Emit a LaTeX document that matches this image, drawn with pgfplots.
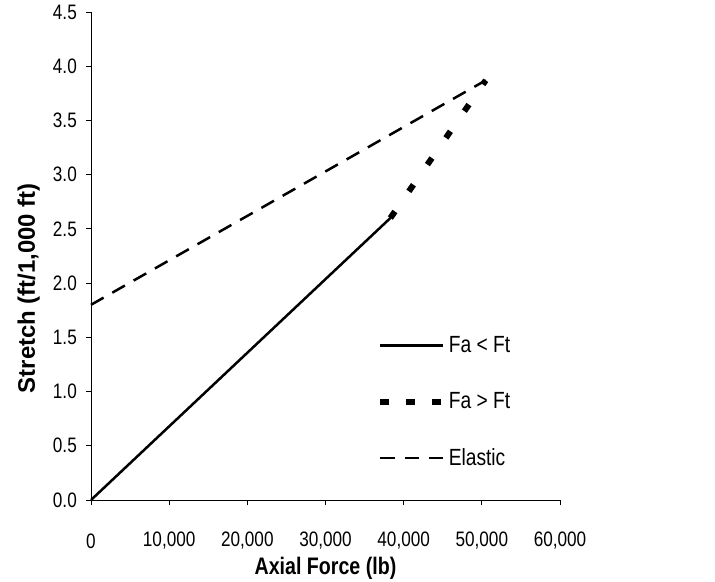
\documentclass[border=0pt]{standalone}
\usepackage{fontspec}
\setmainfont{Liberation Sans}[FakeStretch=0.82]
\newfontfamily\ylabfont{Liberation Sans}
\usepackage{pgfplots}
\pgfplotsset{compat=1.18}
\begin{document}
\begin{tikzpicture}
\path[use as bounding box] (-91bp,-82bp) rectangle (624bp,500bp);
\begin{axis}[
  at={(0,0)}, anchor=south west,
  scale only axis, width=469bp, height=488bp,
  xmin=0, xmax=60000, ymin=0, ymax=4.5,
  axis x line*=bottom, axis y line*=left,
  axis line style={-, line width=0.9bp, black},
  tick align=outside, major tick length=5bp,
  tick style={black, line width=0.9bp},
  xtick={0,10000,20000,30000,40000,50000,60000},
  ytick={0,0.5,1,1.5,2,2.5,3,3.5,4,4.5},
  scaled x ticks=false,
  /pgf/number format/assume math mode=true,
  x tick label style={/pgf/number format/fixed, /pgf/number format/1000 sep={,}, anchor=center, yshift=-36bp},
  y tick label style={/pgf/number format/fixed, /pgf/number format/fixed zerofill, /pgf/number format/precision=1, anchor=east, xshift=-9bp},
  tick label style={font=\fontsize{21}{25}\selectfont, inner sep=0pt},
  xlabel={Axial Force (lb)},
  ylabel={\ylabfont\bfseries Stretch (ft/1,000 ft)},
  label style={font=\fontsize{24}{28}\selectfont\bfseries},
  xlabel style={at={(axis description cs:0.5,-0.139)}, anchor=center},
  ylabel style={at={(axis description cs:-0.133,0.434)}, anchor=center},
  legend style={at={(axis description cs:0.610,0.340)}, anchor=north west,
    draw=none, fill=none, font=\fontsize{23.5}{28}\selectfont,
    row sep=33.5bp, inner sep=0pt, nodes={inner sep=2.5bp}},
  legend cell align=left,
  legend image code/.code={\draw[#1] (0bp,0bp) -- (63bp,0bp);},
  clip=false,
]
\addplot[black, line width=2.5bp] coordinates {(0,0) (38300,2.6)};
\addlegendentry{Fa < Ft}
\addplot[black, line width=6bp, dash pattern=on 8bp off 24.5bp,
  legend image post style={dash pattern=on 9bp off 17bp}] coordinates {(38300,2.6) (50500,3.87)};
\addlegendentry{Fa > Ft}
\addplot[black, line width=2.5bp, dash pattern=on 14.5bp off 10bp] coordinates {(0,1.8) (50500,3.87)};
\addlegendentry{Elastic}
\end{axis}
\end{tikzpicture}
\end{document}
